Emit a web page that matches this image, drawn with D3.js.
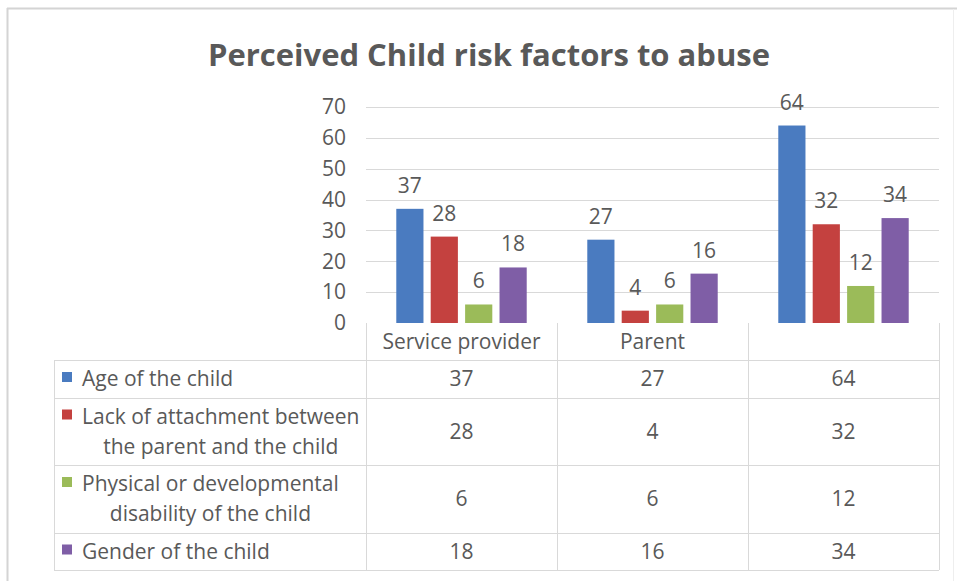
<!DOCTYPE html>
<html lang="en">
<head>
  <meta charset="UTF-8">
  <title>Perceived Child risk factors to abuse</title>
  <script src="https://d3js.org/d3.v7.min.js"></script>
  <style>
    body { margin: 0; background: #fff; }
    text { font-family: "Open Sans", sans-serif; fill: #595959; }
  </style>
</head>
<body>
  <svg id="chart"></svg>
  <script>
    // data
    const categories = ["Service provider", "Parent", ""];
    const seriesNames = [
      ["Age of the child"],
      ["Lack of attachment between", "the parent and the child"],
      ["Physical or developmental", "disability of the child"],
      ["Gender of the child"]
    ];
    const ageOfChild = [37, 27, 64];
    const lackOfAttachment = [28, 4, 32];
    const disability = [6, 6, 12];
    const gender = [18, 16, 34];
    const yTicks = [0, 10, 20, 30, 40, 50, 60, 70];
    const colors = ["#4A7BC0", "#C4413F", "#9BBB59", "#7F5EA6"];

    const values = [ageOfChild, lackOfAttachment, disability, gender];

    const W = 957, H = 581;
    const plot = {left: 366, right: 939, top: 107, bottom: 323};
    const fs = "21px";

    const svg = d3.select("#chart").attr("width", W).attr("height", H);

    // frame: strong top/left edge, faint right edge
    svg.append("line").attr("x1", 7).attr("x2", W).attr("y1", 8.5).attr("y2", 8.5)
      .attr("stroke", "#d4d4d4").attr("stroke-width", 2);
    svg.append("line").attr("x1", 7.5).attr("x2", 7.5).attr("y1", 8).attr("y2", H)
      .attr("stroke", "#d4d4d4").attr("stroke-width", 2);
    svg.append("line").attr("x1", 953.5).attr("x2", 953.5).attr("y1", 9).attr("y2", H)
      .attr("stroke", "#eeeeee");

    svg.append("text")
      .attr("x", 489).attr("y", 66)
      .attr("text-anchor", "middle")
      .style("font-size", "31px").style("font-weight", "bold")
      .text("Perceived Child risk factors to abuse");

    const x0 = d3.scaleBand().domain(d3.range(categories.length))
      .range([plot.left, plot.right]);
    const x1 = d3.scaleBand().domain(d3.range(values.length))
      .range([0, x0.bandwidth()]).paddingInner(0.21).paddingOuter(0.88);
    const y = d3.scaleLinear().domain([0, 70]).range([plot.bottom, plot.top]);

    // gridlines
    svg.append("g").selectAll("line").data(yTicks.slice(1)).join("line")
      .attr("x1", plot.left).attr("x2", plot.right)
      .attr("y1", d => Math.round(y(d)) + 0.5).attr("y2", d => Math.round(y(d)) + 0.5)
      .attr("stroke", "#d9d9d9");

    const yAxis = d3.axisLeft(y).tickValues(yTicks).tickSize(0).tickPadding(20);
    const ga = svg.append("g").attr("transform", `translate(${plot.left},0)`).call(yAxis);
    ga.select(".domain").remove();
    ga.selectAll("text").style("font-size", fs).style("font-family", "Open Sans").attr("fill", "#595959");

    // bars
    const groups = svg.append("g").selectAll("g").data(categories).join("g")
      .attr("transform", (d, i) => `translate(${x0(i)},0)`);

    groups.each(function(c, ci) {
      const g = d3.select(this);
      const rows = values.map((v, si) => ({si, v: v[ci]}));
      g.selectAll("rect").data(rows).join("rect")
        .attr("x", d => x1(d.si)).attr("width", x1.bandwidth())
        .attr("y", d => y(d.v)).attr("height", d => y(0) - y(d.v))
        .attr("fill", d => colors[d.si]);
      g.selectAll("text").data(rows).join("text")
        .attr("x", d => x1(d.si) + x1.bandwidth() / 2)
        .attr("y", d => y(d.v) - 16)
        .attr("text-anchor", "middle")
        .style("font-size", fs)
        .text(d => d.v);
    });

    // data table
    const table = {left: 54, textLeft: 82};
    const rowH = [37, 38, 67, 68, 37];
    const rowTop = [plot.bottom];
    rowH.forEach((h, i) => rowTop.push(rowTop[i] + h));
    const tg = svg.append("g").attr("stroke", "#d9d9d9").attr("fill", "none");

    rowTop.forEach((t, i) => {
      if (i === 0) return;
      tg.append("line").attr("x1", table.left).attr("x2", plot.right)
        .attr("y1", t + 0.5).attr("y2", t + 0.5);
    });
    tg.append("line").attr("x1", table.left + 0.5).attr("x2", table.left + 0.5)
      .attr("y1", rowTop[1]).attr("y2", rowTop[5]);
    d3.range(categories.length + 1).forEach(i => {
      const xx = Math.round(plot.left + i * x0.bandwidth()) + 0.5;
      tg.append("line").attr("x1", xx).attr("x2", xx)
        .attr("y1", rowTop[0]).attr("y2", rowTop[5]);
    });

    // header
    svg.append("g").selectAll("text").data(categories).join("text")
      .attr("x", (d, i) => x0(i) + x0.bandwidth() / 2)
      .attr("y", rowTop[0] + rowH[0] / 2 + 7)
      .attr("text-anchor", "middle")
      .style("font-size", fs)
      .text(d => d);

    // rows: legend key + name (lines centred within their own block), then values
    seriesNames.forEach((lines, si) => {
      const top = rowTop[si + 1], h = rowH[si + 1];
      const cy = top + h / 2;
      const lineH = 30;
      const y0 = cy - (lines.length - 1) * lineH / 2 + 7;
      const texts = lines.map((ln, li) => svg.append("text")
        .attr("y", y0 + li * lineH).attr("text-anchor", "middle")
        .style("font-size", fs).text(ln));
      const blockW = d3.max(texts, t => t.node().getComputedTextLength());
      texts.forEach(t => t.attr("x", table.textLeft + blockW / 2));

      svg.append("rect").attr("x", 62).attr("y", y0 - 14)
        .attr("width", 10).attr("height", 10).attr("fill", colors[si]);

      values[si].forEach((v, ci) => {
        svg.append("text")
          .attr("x", x0(ci) + x0.bandwidth() / 2).attr("y", cy + 7)
          .attr("text-anchor", "middle").style("font-size", fs).text(v);
      });
    });
  </script>
</body>
</html>
